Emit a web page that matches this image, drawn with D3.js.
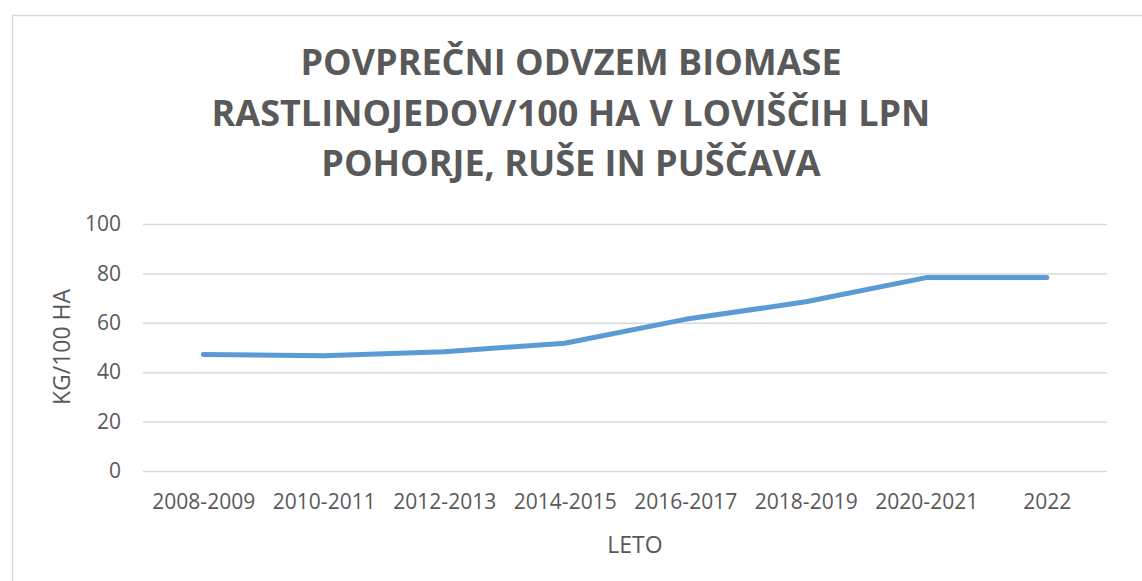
<!DOCTYPE html>
<html>
<head>
<meta charset="utf-8">
<script src="https://cdn.jsdelivr.net/npm/d3@7"></script>
<style>
  body { margin: 0; background: #fff; }
  text { font-family: "Open Sans", "Noto Sans", sans-serif; }
</style>
</head>
<body>
<div id="chart"></div>
<script>
// chart data
var years = ["2008-2009", "2010-2011", "2012-2013", "2014-2015", "2016-2017", "2018-2019", "2020-2021", "2022"];
var biomass = [47.2, 46.7, 48.3, 51.7, 61.4, 68.5, 78.3, 78.3];
var yTicks = [0, 20, 40, 60, 80, 100];
var titleLines = ["POVPREČNI ODVZEM BIOMASE", "RASTLINOJEDOV/100 HA V LOVIŠČIH LPN", "POHORJE, RUŠE IN PUŠČAVA"];

var svgWidth = 1142;
var svgHeight = 581;

var margin = { top: 224, right: 35, bottom: 110, left: 143 };
var width = 1107 - margin.left;
var height = 471 - margin.top;

var svg = d3.select("#chart")
    .append("svg")
    .attr("width", svgWidth)
    .attr("height", svgHeight);

// chart border
svg.append("rect")
    .attr("x", 12.5)
    .attr("y", 15.5)
    .attr("width", 1200)
    .attr("height", 700)
    .attr("fill", "#fff")
    .attr("stroke", "#d9d9d9")
    .attr("stroke-width", 1.5);

// title
svg.append("g").selectAll("text")
    .data(titleLines)
    .enter()
    .append("text")
    .attr("x", 571)
    .attr("y", (d, i) => 75 + i * 50.5)
    .attr("text-anchor", "middle")
    .attr("font-size", 36)
    .attr("font-weight", "bold")
    .attr("fill", "#595959")
    .text(d => d);

var chartGroup = svg.append("g")
    .attr("transform", `translate(${margin.left}, ${margin.top})`);

var xScale = d3.scalePoint()
    .domain(years)
    .range([0, width])
    .padding(0.5);

var yScale = d3.scaleLinear()
    .domain([0, 100])
    .range([height, 0]);

// gridlines + y labels
var yAxis = d3.axisLeft(yScale)
    .tickValues(yTicks)
    .tickSize(-width)
    .tickPadding(22);

var yG = chartGroup.append("g").call(yAxis);
yG.select(".domain").remove();
yG.selectAll(".tick line").attr("stroke", "#d9d9d9").attr("stroke-width", 1.5);
yG.selectAll(".tick text")
    .attr("fill", "#595959")
    .attr("font-size", 21);

// x labels
var xAxis = d3.axisBottom(xScale).tickSize(0).tickPadding(23);
var xG = chartGroup.append("g")
    .attr("transform", `translate(0, ${height})`)
    .call(xAxis);
xG.select(".domain").remove();
xG.selectAll(".tick text")
    .attr("fill", "#595959")
    .attr("font-size", 21);

// the line
var line = d3.line()
    .x((d, i) => xScale(years[i]))
    .y(d => yScale(d));

chartGroup.append("path")
    .datum(biomass)
    .attr("d", line)
    .attr("fill", "none")
    .attr("stroke", "#5b9bd5")
    .attr("stroke-width", 5)
    .attr("stroke-linecap", "round")
    .attr("stroke-linejoin", "round");

// axis titles
svg.append("text")
    .attr("x", 635)
    .attr("y", 553)
    .attr("text-anchor", "middle")
    .attr("font-size", 23)
    .attr("fill", "#595959")
    .text("LETO");

svg.append("text")
    .attr("transform", "translate(70, 347) rotate(-90)")
    .attr("text-anchor", "middle")
    .attr("font-size", 23)
    .attr("fill", "#595959")
    .text("KG/100 HA");
</script>
</body>
</html>
